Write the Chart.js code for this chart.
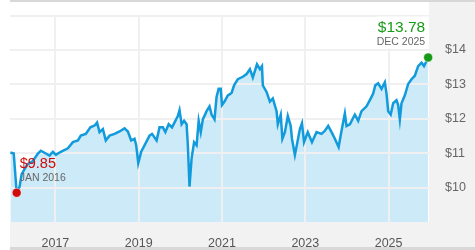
<!DOCTYPE html>
<html>
<head>
<meta charset="utf-8">
<script src="https://cdn.jsdelivr.net/npm/chart.js@4/dist/chart.umd.min.js"></script>
<style>
  html, body { margin: 0; padding: 0; background: #fff; overflow: hidden; }
  #chart { display: block; }
</style>
</head>
<body>
<canvas id="chart" width="475" height="250" style="width:475px;height:250px"></canvas>
<script>
// Price history (decimal year, value in $)
var dates = [
    2015.92, 2016.00, 2016.07, 2016.14, 2016.19, 2016.33, 2016.45, 2016.58, 2016.65, 2016.77,
    2016.86, 2016.94, 2017.01, 2017.13, 2017.30, 2017.42, 2017.54, 2017.61, 2017.73, 2017.84,
    2017.95, 2018.00, 2018.06, 2018.14, 2018.21, 2018.30, 2018.42, 2018.54, 2018.66, 2018.74,
    2018.82, 2018.90, 2018.94, 2018.99, 2019.06, 2019.18, 2019.26,
    2019.32, 2019.43, 2019.50, 2019.58, 2019.64, 2019.72, 2019.80, 2019.88, 2019.94, 2019.98,
    2020.03, 2020.09, 2020.15, 2020.18, 2020.22, 2020.27, 2020.33, 2020.39, 2020.44, 2020.49,
    2020.54, 2020.63, 2020.70, 2020.75, 2020.82, 2020.87, 2020.92, 2020.97, 2021.00, 2021.06,
    2021.14, 2021.23, 2021.29, 2021.38, 2021.50, 2021.59, 2021.67, 2021.74, 2021.84, 2021.91,
    2021.96, 2021.98, 2022.07, 2022.15, 2022.22, 2022.31, 2022.34, 2022.41, 2022.45, 2022.51,
    2022.58,
    2022.65, 2022.68, 2022.75, 2022.81, 2022.87, 2022.92, 2022.97, 2023.06, 2023.16, 2023.27,
    2023.39, 2023.47, 2023.55, 2023.63, 2023.71, 2023.80, 2023.87, 2023.95, 2023.99, 2024.07,
    2024.19, 2024.27, 2024.35, 2024.47, 2024.55, 2024.63, 2024.68, 2024.75, 2024.83, 2024.91,
    2024.95, 2024.99, 2025.05, 2025.11, 2025.19, 2025.23, 2025.27, 2025.31, 2025.39, 2025.47,
    2025.55, 2025.63, 2025.71, 2025.79, 2025.85, 2025.91, 2025.95
];
var prices = [
    11.02, 10.99, 9.85, 10.03, 10.39, 10.68, 10.76, 10.99, 11.07, 10.99,
    10.93, 11.04, 10.95, 11.04, 11.14, 11.32, 11.37, 11.51, 11.56, 11.75,
    11.81, 11.89, 11.61, 11.70, 11.37, 11.51, 11.56, 11.63, 11.72, 11.63,
    11.37, 11.42, 11.23, 10.71, 11.04, 11.32, 11.51,
    11.56, 11.37, 11.75, 11.75, 11.61, 11.84, 11.75, 11.94, 12.08, 12.25,
    11.84, 11.94, 11.84, 11.23, 10.03, 10.85, 11.32, 11.23, 11.94, 11.61,
    11.98, 12.22, 12.36, 12.12, 11.98, 12.64, 12.87, 12.87, 12.40, 12.50,
    12.68, 12.75, 12.97, 13.15, 13.22, 13.30, 13.44, 13.20, 13.58, 13.44,
    13.53, 12.97, 12.78, 12.50, 12.59, 12.22, 11.84, 12.12, 11.42, 11.61,
    12.08,
    11.79, 11.42, 10.95, 11.32, 11.70, 11.87, 11.32, 11.61, 11.32, 11.61,
    11.56, 11.65, 11.79, 11.61, 11.42, 11.18, 11.65, 12.15, 11.79, 11.84,
    12.12, 11.94, 12.22, 12.36, 12.54, 12.73, 12.97, 13.03, 12.87, 13.06,
    12.73, 12.22, 12.12, 12.45, 12.54, 12.40, 11.98, 12.45, 12.68, 13.01,
    13.15, 13.25, 13.53, 13.63, 13.53, 13.67, 13.78
];

// Low / latest markers
var markerDates = [2016.07, 2025.95];
var markerValues = [9.85, 13.78];
var markerLabels = ['JAN 2016', 'DEC 2025'];
var markerColors = ['#d10a0a', '#179b17'];

// Axis ticks
var xTicks = [2017, 2019, 2021, 2023, 2025];
var yTicks = [9, 10, 11, 12, 13, 14, 15];

var FONT = '"Liberation Sans", Arial, sans-serif';

var points = dates.map(function(d, i) { return { x: d, y: prices[i] }; });
var markers = markerDates.map(function(d, i) { return { x: d, y: markerValues[i] }; });

// Page frame: grey axis bands and borders
var framePlugin = {
    id: 'frame',
    beforeDraw: function(chart) {
        var c = chart.ctx, a = chart.chartArea, w = chart.width;
        c.save();
        c.fillStyle = '#ffffff';
        c.fillRect(0, 0, w, chart.height);
        c.fillStyle = '#f2f2f2';
        c.fillRect(a.right, 2, w - a.right, 245);
        c.fillRect(a.left, a.bottom, w - a.left, 247 - a.bottom);
        c.fillStyle = '#d8d8d8';
        c.fillRect(a.left, 0, w - a.left, 2);
        c.fillRect(a.left, 247, w - a.left, 3);
        c.restore();
    },
    // grid lines sit above the fill but under the price line
    beforeDatasetDraw: function(chart, args) {
        if (args.index !== 1) return;
        var c = chart.ctx, a = chart.chartArea;
        var xs = chart.scales.x, ys = chart.scales.y;
        c.save();
        c.strokeStyle = '#f0f0f0';
        c.lineWidth = 2;
        c.beginPath();
        yTicks.forEach(function(v) {
            if (v <= ys.min) return;
            var y = Math.round(ys.getPixelForValue(v));
            c.moveTo(a.left, y);
            c.lineTo(a.right, y);
        });
        xTicks.forEach(function(v) {
            var x = Math.round(xs.getPixelForValue(v));
            c.moveTo(x, a.top);
            c.lineTo(x, a.bottom);
        });
        c.stroke();
        c.restore();
    },
    afterDatasetsDraw: function(chart) {
        var c = chart.ctx;
        var xs = chart.scales.x, ys = chart.scales.y;
        c.save();
        // low marker label
        var lx = xs.getPixelForValue(markerDates[0]);
        var ly = ys.getPixelForValue(markerValues[0]);
        c.textAlign = 'left';
        c.fillStyle = markerColors[0];
        c.font = '14.5px ' + FONT;
        c.fillText('$' + markerValues[0].toFixed(2), lx + 3, ly - 25);
        c.fillStyle = '#666';
        c.font = '10.5px ' + FONT;
        c.fillText(markerLabels[0], lx + 3, ly - 12);

        // latest marker label on white box
        var hx = xs.getPixelForValue(markerDates[1]);
        var hy = ys.getPixelForValue(markerValues[1]);
        c.fillStyle = '#ffffff';
        c.fillRect(hx - 52, chart.chartArea.top + 1, chart.chartArea.right - (hx - 52), hy - chart.chartArea.top - 10);
        c.textAlign = 'right';
        c.fillStyle = markerColors[1];
        c.font = '15.5px ' + FONT;
        c.fillText('$' + markerValues[1].toFixed(2), hx - 3, hy - 25);
        c.fillStyle = '#666';
        c.font = '10.5px ' + FONT;
        c.fillText(markerLabels[1], hx - 3, hy - 12.5);
        c.restore();
    }
};

new Chart(document.getElementById('chart'), {
    type: 'line',
    data: {
        datasets: [
            // area fill
            {
                data: points,
                borderWidth: 0,
                backgroundColor: '#cdeaf8',
                fill: 'start',
                pointRadius: 0,
                tension: 0,
                order: 3
            },
            // price line
            {
                data: points,
                borderColor: '#119bdc',
                borderWidth: 2.5,
                fill: false,
                pointRadius: 0,
                tension: 0,
                order: 2
            },
            // low / latest dots
            {
                data: markers,
                showLine: false,
                pointRadius: 4.5,
                pointBackgroundColor: markerColors,
                pointBorderColor: '#ffffff',
                pointBorderWidth: 0.5,
                clip: false,
                order: 1
            }
        ]
    },
    options: {
        responsive: false,
        animation: false,
        events: [],
        layout: { padding: { left: 10, top: 10, right: 0, bottom: 3 } },
        plugins: {
            legend: { display: false },
            tooltip: { enabled: false }
        },
        scales: {
            x: {
                type: 'linear',
                min: 2015.91,
                max: 2025.97,
                border: { display: false },
                grid: { display: false },
                afterBuildTicks: function(scale) {
                    scale.ticks = xTicks.map(function(v) { return { value: v }; });
                },
                afterFit: function(scale) { scale.height = 25; },
                ticks: {
                    padding: 6,
                    color: '#555',
                    font: { family: FONT, size: 12.5 },
                    maxRotation: 0,
                    callback: function(v) { return String(v); }
                }
            },
            y: {
                position: 'right',
                min: 9,
                max: 15,
                border: { display: false },
                grid: { display: false },
                afterBuildTicks: function(scale) {
                    scale.ticks = yTicks.map(function(v) { return { value: v }; });
                },
                afterFit: function(scale) { scale.width = 46; },
                ticks: {
                    padding: 8,
                    color: '#666',
                    font: { family: FONT, size: 12.5 },
                    callback: function(v) {
                        if (v === 9 || v === 15) return '';
                        return '$' + v;
                    }
                }
            }
        }
    },
    plugins: [framePlugin]
});
</script>
</body>
</html>
